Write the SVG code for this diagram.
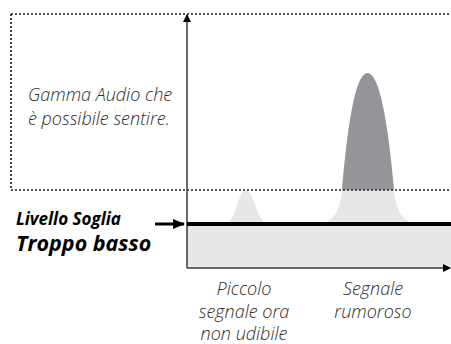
<svg xmlns="http://www.w3.org/2000/svg" width="451" height="344" viewBox="0 0 451 344">
<style>
.lbl{font-family:"Open Sans","Liberation Sans",sans-serif;font-style:italic;font-size:18px;fill:#2b2b2b;font-weight:300}
.bold{font-family:"Open Sans","Liberation Sans",sans-serif;font-style:italic;font-weight:700;fill:#000}
.dot{fill:none;stroke:#231f20;stroke-width:1.7;stroke-dasharray:2 2}
</style>
<defs>
<marker id="ah" markerWidth="8" markerHeight="8" refX="7" refY="4" orient="auto" markerUnits="userSpaceOnUse">
<path d="M0,0 L8,4 L0,8 z" fill="#000"/>
</marker>
<marker id="ah2" markerWidth="12" markerHeight="10" refX="11" refY="5" orient="auto" markerUnits="userSpaceOnUse">
<path d="M0,0 L12,5 L0,10 z" fill="#000"/>
</marker>
<clipPath id="above"><rect x="0" y="0" width="451" height="190"/></clipPath>
</defs>
<g id="background">
<rect x="187" y="224" width="264" height="44" fill="#e6e7e8"/>
</g>
<g id="small-peak">
<path d="M226,224 C236,222 238,190 246,190 C254,190 256,222 268,224 Z" fill="#e6e7e8"/>
</g>
<g id="big-peak">
<path d="M320,224 C334,222 340,210 342,190 C348,120 356,73 367.5,73 C379,73 388,120 394,190 C396,210 402,222 418,224 Z" fill="#e6e7e8"/>
<path d="M320,224 C334,222 340,210 342,190 C348,120 356,73 367.5,73 C379,73 388,120 394,190 C396,210 402,222 418,224 Z" fill="#939598" clip-path="url(#above)"/>
</g>
<g id="range">
<path class="dot" d="M11,14 H451 M11,14 V190 H451"/>
<text class="lbl" x="28" y="101">Gamma Audio che</text>
<text class="lbl" x="28" y="125">è possibile sentire.</text>
</g>
<g id="connectors">
<line x1="187" y1="268" x2="187" y2="15" stroke="#3a3a3a" stroke-width="1.5" marker-end="url(#ah)"/>
<line x1="187" y1="268" x2="450" y2="268" stroke="#3a3a3a" stroke-width="1.5" marker-end="url(#ah)"/>
<line x1="187" y1="224" x2="451" y2="224" stroke="#000" stroke-width="4"/>
<line x1="155" y1="224" x2="184" y2="224" stroke="#000" stroke-width="3" marker-end="url(#ah2)"/>
</g>
<g id="threshold-label">
<text class="bold" x="16" y="225" font-size="17">Livello Soglia</text>
<text class="bold" x="16" y="251" font-size="21.5">Troppo basso</text>
</g>
<g id="small-label">
<text class="lbl" text-anchor="middle" x="244" y="295">Piccolo</text>
<text class="lbl" text-anchor="middle" x="244" y="318">segnale ora</text>
<text class="lbl" text-anchor="middle" x="244" y="340">non udibile</text>
</g>
<g id="noisy-label">
<text class="lbl" text-anchor="middle" x="373" y="295">Segnale</text>
<text class="lbl" text-anchor="middle" x="373" y="318">rumoroso</text>
</g>
</svg>
